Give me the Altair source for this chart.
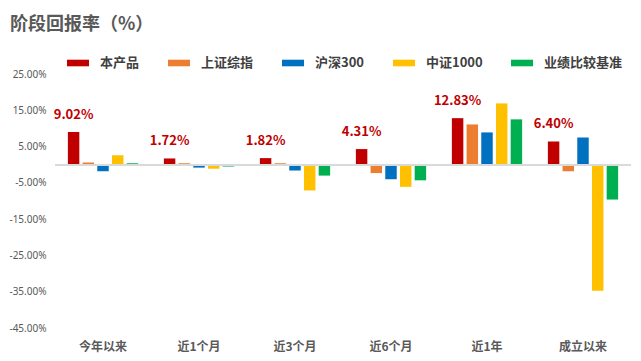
import altair as alt
import pandas as pd

periods = ["今年以来", "近1个月", "近3个月", "近6个月", "近1年", "成立以来"]
series = ["本产品", "上证综指", "沪深300", "中证1000", "业绩比较基准"]
colors = ["#C00000", "#ED7D31", "#0070C0", "#FFC000", "#00B050"]

product = [9.02, 1.72, 1.82, 4.31, 12.83, 6.40]
sse = [0.6, 0.4, 0.4, -2.3, 11.1, -1.8]
hs300 = [-1.8, -0.8, -1.6, -4.0, 8.9, 7.5]
csi1000 = [2.6, -1.1, -7.1, -6.1, 16.9, -34.7]
bench = [0.4, -0.5, -3.0, -4.3, 12.5, -9.6]

y_ticks = [25, 15, 5, -5, -15, -25, -35, -45]

FONT = "Noto Sans CJK SC"

rows = []
for s, vals in zip(series, [product, sse, hs300, csi1000, bench]):
    for p, v in zip(periods, vals):
        rows.append({"period": p, "series": s, "value": v})
df = pd.DataFrame(rows)

x_enc = alt.X("period:N", sort=periods, title=None,
              scale=alt.Scale(paddingInner=0, paddingOuter=0),
              axis=alt.Axis(labelAngle=0, domain=False, ticks=False,
                            labelFontWeight="bold", labelFontSize=12,
                            labelColor="#595959", labelPadding=13, labelFont=FONT))
xoff_enc = alt.XOffset("series:N", sort=series,
                       scale=alt.Scale(domain=series, paddingInner=0.22, paddingOuter=0.875))
y_enc = alt.Y("value:Q", title=None,
              scale=alt.Scale(domain=[-45, 25], nice=False, zero=False),
              axis=alt.Axis(values=y_ticks, tickCount=20, domain=False, ticks=False, grid=False,
                            labelFontSize=10, labelColor="#595959", labelPadding=9,
                            labelFont="Noto Sans", labelOverlap=False, labelBound=False,
                            labelExpr="(datum.value < 0 ? '-' : '') + format(abs(datum.value), '.2f') + '%'"))

bars = alt.Chart(df).mark_bar().encode(
    x=x_enc,
    xOffset=xoff_enc,
    y=y_enc,
    color=alt.Color("series:N", sort=series,
                    scale=alt.Scale(domain=series, range=colors),
                    legend=alt.Legend(title=None, orient="none", direction="horizontal",
                                      legendX=12, legendY=-22,
                                      symbolType="M-1,-0.3H1V0.3H-1Z", symbolSize=484,
                                      symbolStrokeWidth=0, labelOffset=11, columnPadding=28,
                                      labelFont=FONT, labelFontSize=13, labelFontWeight="bold",
                                      labelColor="#404040")),
)

zero = alt.Chart(df).transform_calculate(z="0").mark_rule(
    color="#D9D9D9", strokeWidth=1.5).encode(y="z:Q")

labels = alt.Chart(df).transform_filter(
    alt.datum.series == "本产品"
).transform_calculate(
    label="format(datum.value, '.2f') + '%'"
).mark_text(baseline="bottom", dy=-10, fontSize=13, fontWeight="bold",
            color="#C00000", font=FONT).encode(
    x=alt.X("period:N", sort=periods),
    xOffset=alt.XOffset("series:N", sort=series),
    y="value:Q",
    text="label:N",
)

chart = alt.layer(bars, zero, labels).properties(
    width=576, height=254,
    autosize=alt.AutoSizeParams(type="none"),
    padding={"left": 47, "top": 66, "right": 2, "bottom": 30},
    title=alt.TitleParams("阶段回报率（%）", anchor="start", frame="group",
                          dx=-45, offset=18, font=FONT, fontSize=18,
                          fontWeight="bold", color="#595959"),
).configure_view(stroke=None).configure_axisY(labelOverlap=False)

chart.save("out.html", embed_options={"renderer": "svg", "actions": False})
